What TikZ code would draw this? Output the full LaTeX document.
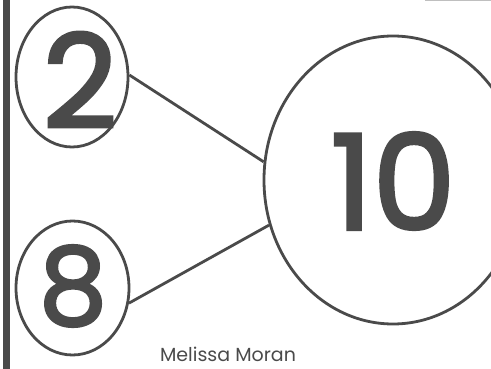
\documentclass[tikz,border=0pt]{standalone}
\usepackage{fontspec}
\setmainfont{Poppins}
\newfontfamily\digitfont[FakeBold=2.5]{Poppins}
\usetikzlibrary{shapes.geometric}
\definecolor{ink}{HTML}{4A4A4A}
\tikzset{
  ring/.style={draw=ink, line width=2.8pt, ellipse, inner sep=0pt},
  digit/.style={text=ink, inner sep=0pt, anchor=center},
  link/.style={draw=ink, line width=2.8pt},
}
\begin{document}
\begin{tikzpicture}[x=1pt,y=-1pt]
\useasboundingbox (0,0) rectangle (491,369);
\clip (0,0) rectangle (491,369);
\fill[ink] (3,0) rectangle (10,369);
\draw[black!25, line width=1.5pt] (425,0.5) -- (491,0.5);
\node[ring, minimum width=112pt, minimum height=140pt] (two) at (72,77) {};
\node[ring, minimum width=113pt, minimum height=134pt] (eight) at (72.5,288) {};
\node[ring, minimum width=258pt, minimum height=288pt] (ten) at (393,180) {};
\node[digit, font=\digitfont\fontsize{130}{130}\selectfont] (ttwo) at (80,80) {2};
\node[digit, font=\digitfont\fontsize{108}{108}\selectfont] (teight) at (73,286) {8};
\node[digit, font=\digitfont\fontsize{132}{132}\selectfont] (tten) at (393,181) {10};
\draw[link] (two.2) -- (ten.172);
\draw[link] (eight.345) -- (ten.200);
\node[text=ink, font=\fontsize{19}{19}\selectfont, anchor=base, inner sep=0pt] (author) at (228,361) {Melissa Moran};
\end{tikzpicture}
\end{document}
